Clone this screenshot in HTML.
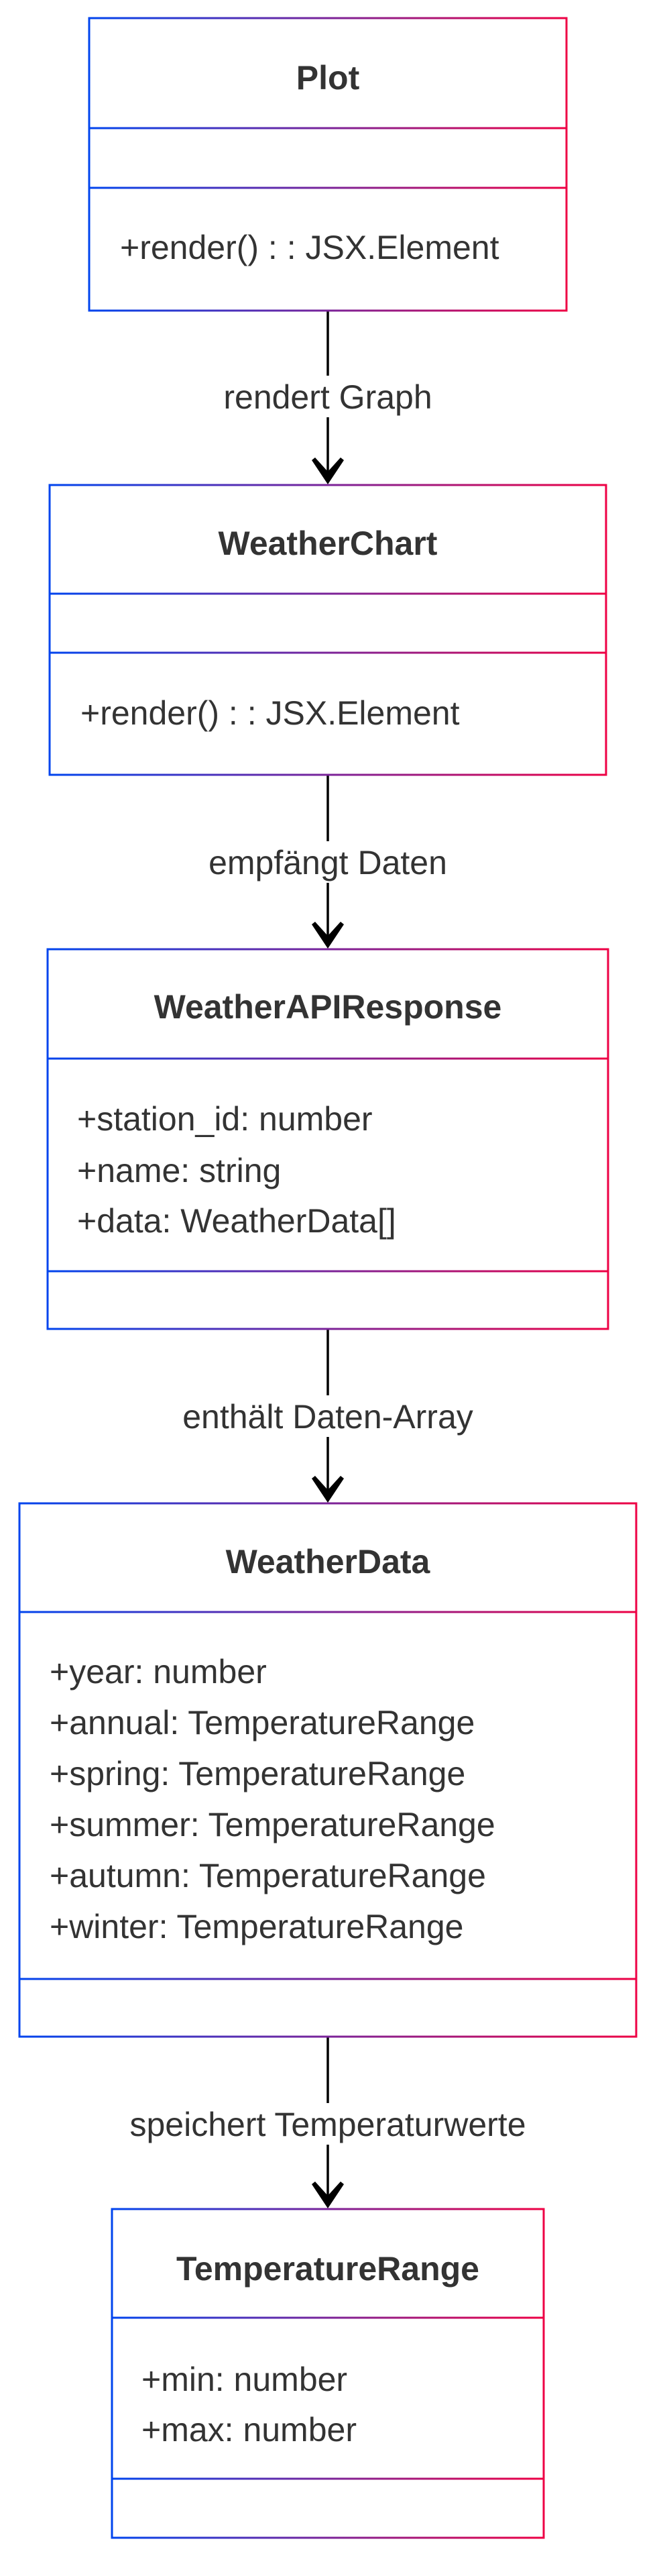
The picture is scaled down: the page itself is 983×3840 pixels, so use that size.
<!DOCTYPE html>
<html><head><meta charset="utf-8"><style>
html,body{margin:0;padding:0;background:#fff;}
svg{display:block;}
text{font-family:"Liberation Sans",Arial,sans-serif;font-size:50px;fill:#333;}
.t{font-weight:bold;text-anchor:middle;}
.l{text-anchor:middle;}
</style></head><body>
<svg width="983" height="3840" viewBox="0 0 983 3840" xmlns="http://www.w3.org/2000/svg">
<defs>
<linearGradient id="g1" gradientUnits="userSpaceOnUse" x1="133" y1="0" x2="845" y2="0"><stop offset="0" stop-color="#0044ee"/><stop offset="0.5" stop-color="#7a2399"/><stop offset="1" stop-color="#ee0044"/></linearGradient>
<linearGradient id="g2" gradientUnits="userSpaceOnUse" x1="74" y1="0" x2="904" y2="0"><stop offset="0" stop-color="#0044ee"/><stop offset="0.5" stop-color="#7a2399"/><stop offset="1" stop-color="#ee0044"/></linearGradient>
<linearGradient id="g3" gradientUnits="userSpaceOnUse" x1="71" y1="0" x2="907" y2="0"><stop offset="0" stop-color="#0044ee"/><stop offset="0.5" stop-color="#7a2399"/><stop offset="1" stop-color="#ee0044"/></linearGradient>
<linearGradient id="g4" gradientUnits="userSpaceOnUse" x1="29" y1="0" x2="949" y2="0"><stop offset="0" stop-color="#0044ee"/><stop offset="0.5" stop-color="#7a2399"/><stop offset="1" stop-color="#ee0044"/></linearGradient>
<linearGradient id="g5" gradientUnits="userSpaceOnUse" x1="167" y1="0" x2="811" y2="0"><stop offset="0" stop-color="#0044ee"/><stop offset="0.5" stop-color="#7a2399"/><stop offset="1" stop-color="#ee0044"/></linearGradient>
</defs>

<!-- connectors -->
<g stroke="#000" stroke-width="3.5" fill="none">
<line x1="489" y1="463" x2="489" y2="705"/>
<line x1="489" y1="1155" x2="489" y2="1397"/>
<line x1="489" y1="1981" x2="489" y2="2223"/>
<line x1="489" y1="3036" x2="489" y2="3275"/>
</g>
<g fill="#fff">
<rect x="300" y="560" width="380" height="62"/>
<rect x="280" y="1254" width="420" height="62"/>
<rect x="240" y="2080" width="500" height="62"/>
<rect x="160" y="3135" width="660" height="62"/>
</g>
<g fill="#000">
<polygon points="489,722 465,686 470,682 489,703 508,682 513,686"/>
<polygon points="489,1414 465,1378 470,1374 489,1395 508,1374 513,1378"/>
<polygon points="489,2240 465,2204 470,2200 489,2221 508,2200 513,2204"/>
<polygon points="489,3292 465,3256 470,3252 489,3273 508,3252 513,3256"/>
</g>
<text class="l" x="489" y="609">rendert Graph</text>
<text class="l" x="489" y="1303">empfängt Daten</text>
<text class="l" x="489" y="2129">enthält Daten-Array</text>
<text class="l" x="489" y="3184">speichert Temperaturwerte</text>

<!-- Plot -->
<g fill="none" stroke="url(#g1)" stroke-width="3">
<rect x="133" y="27" width="712" height="436"/>
<line x1="133" y1="191" x2="845" y2="191"/>
<line x1="133" y1="280" x2="845" y2="280"/>
</g>
<text class="t" x="489" y="133">Plot</text>
<text x="179" y="386">+render() : : JSX.Element</text>

<!-- WeatherChart -->
<g fill="none" stroke="url(#g2)" stroke-width="3">
<rect x="74" y="723" width="830" height="432"/>
<line x1="74" y1="885" x2="904" y2="885"/>
<line x1="74" y1="973" x2="904" y2="973"/>
</g>
<text class="t" x="489" y="827">WeatherChart</text>
<text x="120" y="1080">+render() : : JSX.Element</text>

<!-- WeatherAPIResponse -->
<g fill="none" stroke="url(#g3)" stroke-width="3">
<rect x="71" y="1415" width="836" height="566"/>
<line x1="71" y1="1578" x2="907" y2="1578"/>
<line x1="71" y1="1895" x2="907" y2="1895"/>
</g>
<text class="t" x="489" y="1518">WeatherAPIResponse</text>
<text x="115" y="1685">+station_id: number</text>
<text x="115" y="1762">+name: string</text>
<text x="115" y="1837">+data: WeatherData[]</text>

<!-- WeatherData -->
<g fill="none" stroke="url(#g4)" stroke-width="3">
<rect x="29" y="2241" width="920" height="795"/>
<line x1="29" y1="2403" x2="949" y2="2403"/>
<line x1="29" y1="2950" x2="949" y2="2950"/>
</g>
<text class="t" x="489" y="2345">WeatherData</text>
<text x="74" y="2509">+year: number</text>
<text x="74" y="2585">+annual: TemperatureRange</text>
<text x="74" y="2661">+spring: TemperatureRange</text>
<text x="74" y="2737">+summer: TemperatureRange</text>
<text x="74" y="2813">+autumn: TemperatureRange</text>
<text x="74" y="2889">+winter: TemperatureRange</text>

<!-- TemperatureRange -->
<g fill="none" stroke="url(#g5)" stroke-width="3">
<rect x="167" y="3293" width="644" height="490"/>
<line x1="167" y1="3455" x2="811" y2="3455"/>
<line x1="167" y1="3695" x2="811" y2="3695"/>
</g>
<text class="t" x="489" y="3399">TemperatureRange</text>
<text x="211" y="3564">+min: number</text>
<text x="211" y="3639">+max: number</text>
</svg>
</body></html>
